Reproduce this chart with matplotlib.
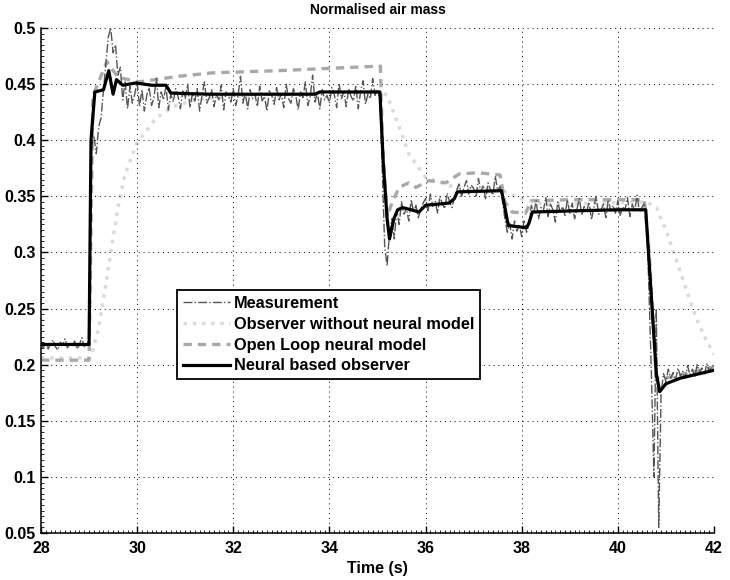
import numpy as np
import matplotlib
matplotlib.use("Agg")
import matplotlib.pyplot as plt
from matplotlib.ticker import MultipleLocator

plt.rcParams['font.family'] = ['Liberation Sans', 'DejaVu Sans']
plt.rcParams['font.weight'] = 'bold'

# == measurement, sampled every 0.05 s from 28 to 42 s (one row per second) == #
meas_t = np.arange(281) * 0.05 + 28.0
meas_v = [
    0.218, 0.215, 0.220, 0.214, 0.219, 0.222, 0.216, 0.213, 0.220, 0.218, 0.223, 0.215, 0.219, 0.217, 0.221, 0.214, 0.218, 0.224, 0.216, 0.219,
    0.221, 0.395, 0.404, 0.388, 0.412, 0.420, 0.445, 0.468, 0.492, 0.500, 0.478, 0.485, 0.458, 0.465, 0.436, 0.452, 0.428, 0.448, 0.433, 0.441,
    0.452, 0.430, 0.445, 0.426, 0.440, 0.447, 0.431, 0.438, 0.455, 0.429, 0.443, 0.436, 0.448, 0.427, 0.441, 0.434, 0.446, 0.439, 0.428, 0.444,
    0.437, 0.450, 0.429, 0.442, 0.435, 0.446, 0.426, 0.440, 0.452, 0.433, 0.438, 0.445, 0.430, 0.441, 0.436, 0.449, 0.427, 0.443, 0.439, 0.434,
    0.446, 0.431, 0.440, 0.457, 0.433, 0.442, 0.428, 0.445, 0.437, 0.441, 0.430, 0.448, 0.435, 0.439, 0.426, 0.444, 0.440, 0.432, 0.447, 0.436,
    0.441, 0.429, 0.450, 0.437, 0.433, 0.446, 0.440, 0.427, 0.443, 0.438, 0.452, 0.431, 0.439, 0.458, 0.434, 0.442, 0.428, 0.445, 0.436, 0.440,
    0.433, 0.447, 0.441, 0.429, 0.451, 0.437, 0.443, 0.430, 0.446, 0.439, 0.435, 0.449, 0.428, 0.444, 0.453, 0.432, 0.441, 0.437, 0.455, 0.440,
    0.445, 0.438, 0.372, 0.305, 0.288, 0.318, 0.330, 0.312, 0.338, 0.325, 0.345, 0.333, 0.340, 0.328, 0.347, 0.336, 0.342, 0.331, 0.339, 0.344,
    0.348, 0.337, 0.352, 0.341, 0.346, 0.335, 0.350, 0.343, 0.339, 0.353, 0.345, 0.340, 0.349, 0.356, 0.361, 0.350, 0.358, 0.364, 0.352, 0.360,
    0.357, 0.349, 0.366, 0.354, 0.360, 0.347, 0.362, 0.356, 0.351, 0.368, 0.355, 0.359, 0.346, 0.330, 0.318, 0.326, 0.312, 0.328, 0.319, 0.325,
    0.314, 0.329, 0.318, 0.324, 0.342, 0.335, 0.346, 0.330, 0.340, 0.337, 0.349, 0.332, 0.343, 0.338, 0.327, 0.345, 0.336, 0.341, 0.333, 0.347,
    0.335, 0.344, 0.330, 0.339, 0.348, 0.333, 0.341, 0.336, 0.345, 0.329, 0.340, 0.350, 0.334, 0.338, 0.343, 0.331, 0.347, 0.337, 0.342, 0.335,
    0.346, 0.333, 0.341, 0.338, 0.349, 0.332, 0.343, 0.337, 0.351, 0.336, 0.340, 0.344, 0.330, 0.262, 0.188, 0.100, 0.250, 0.055, 0.175, 0.192,
    0.185, 0.196, 0.188, 0.193, 0.186, 0.197, 0.190, 0.194, 0.188, 0.199, 0.191, 0.196, 0.189, 0.200, 0.193, 0.197, 0.191, 0.201, 0.194, 0.198,
    0.199,
]

# == observer without neural model (slow, light dotted) == #
obs_t = [28.0, 29.0, 29.06, 29.2, 29.35, 29.48, 29.6, 29.75, 30.0, 30.4, 30.75, 31.2, 31.9, 32.8, 35.08,
         35.2, 35.45, 35.65, 36.0, 36.6, 37.6, 38.1, 38.5, 40.6, 40.8, 41.0, 41.2, 41.4, 41.6, 41.8, 42.0]
obs_v = [0.206, 0.206, 0.210, 0.233, 0.272, 0.308, 0.340, 0.370, 0.398, 0.420, 0.430, 0.436, 0.439, 0.441, 0.443,
         0.440, 0.412, 0.388, 0.367, 0.358, 0.355, 0.346, 0.343, 0.345, 0.340, 0.320, 0.295, 0.270, 0.245, 0.225, 0.209]

# == open loop neural model (gray dashed) == #
ol_t = [28.0, 29.0, 29.08, 29.2, 29.37, 29.6, 30.04, 30.87, 31.56, 32.95, 34.5, 35.06, 35.1, 35.2, 35.3,
        35.45, 35.65, 35.8, 36.07, 36.42, 36.7, 37.1, 37.55, 37.65, 37.8, 38.08, 38.2, 39.0, 40.55,
        40.65, 40.8, 41.0, 41.5, 42.0]
ol_v = [0.204, 0.204, 0.440, 0.452, 0.470, 0.456, 0.452, 0.457, 0.460, 0.462, 0.465, 0.466, 0.400, 0.332, 0.344,
        0.358, 0.362, 0.358, 0.364, 0.362, 0.370, 0.371, 0.369, 0.345, 0.336, 0.335, 0.346, 0.347, 0.347,
        0.300, 0.188, 0.188, 0.193, 0.198]

# == neural based observer (black) == #
nn_t = [28.0, 29.0, 29.04, 29.12, 29.3, 29.41, 29.5, 29.57, 29.7, 29.97, 30.3, 30.6, 30.7, 31.5, 32.5, 33.7,
        33.8, 34.5, 35.05, 35.12, 35.2, 35.25, 35.34, 35.42, 35.52, 35.7, 35.86, 36.0, 36.49, 36.6, 36.66,
        37.58, 37.65, 37.72, 38.1, 38.15, 38.22, 39.0, 40.0, 40.58, 40.8, 40.87, 41.0, 41.3, 41.7, 42.0]
nn_v = [0.218, 0.218, 0.400, 0.443, 0.445, 0.462, 0.441, 0.454, 0.449, 0.451, 0.449, 0.449, 0.442, 0.441, 0.441, 0.441,
        0.443, 0.443, 0.443, 0.380, 0.330, 0.312, 0.330, 0.338, 0.340, 0.338, 0.336, 0.342, 0.344, 0.348, 0.354,
        0.355, 0.340, 0.324, 0.322, 0.326, 0.336, 0.337, 0.338, 0.338, 0.192, 0.176, 0.183, 0.188, 0.192, 0.195]

fig = plt.figure(figsize=(7.3, 5.8), dpi=100)
ax = fig.add_axes([41 / 730, 47 / 580, 673 / 730, 505 / 580])

ax.plot(meas_t, meas_v, color="#555555", lw=1.0, ls="-.", label="Measurement", zorder=3)
ax.plot(obs_t, obs_v, color="#dadada", lw=2.5, ls=":", label="Observer without neural model", zorder=1)
ax.plot(ol_t, ol_v, color="#a9a9a9", lw=2.4, ls=(0, (2.5, 1.8)), label="Open Loop neural model", zorder=2)
ax.plot(nn_t, nn_v, color="black", lw=2.3, label="Neural based observer", zorder=4)

ax.set_xlim(28, 42)
ax.set_ylim(0.05, 0.5)
ax.set_xticks(np.arange(28, 42.1, 2))
ax.set_yticks([0.05, 0.1, 0.15, 0.2, 0.25, 0.3, 0.35, 0.4, 0.45, 0.5])
ax.set_yticklabels(["0.05", "0.1", "0.15", "0.2", "0.25", "0.3", "0.35", "0.4", "0.45", "0.5"])
ax.xaxis.set_minor_locator(MultipleLocator(0.1))
ax.yaxis.set_minor_locator(MultipleLocator(0.005))
ax.tick_params(which="major", direction="in", length=5, width=1, labelsize=11.5)
ax.tick_params(axis="x", which="major", pad=6)
ax.tick_params(axis="y", which="major", pad=4)
ax.tick_params(which="minor", direction="in", length=2, width=0.6)
for lab in ax.get_xticklabels() + ax.get_yticklabels():
    lab.set_fontweight("bold")

ax.grid(True, which="major", color="black", ls=(0, (1, 4)), lw=0.7)
ax.spines["top"].set_visible(False)
ax.spines["right"].set_visible(False)
ax.spines["left"].set_linewidth(1.1)
ax.spines["bottom"].set_linewidth(1.1)

ax.set_title("Normalised air mass", fontsize=10, fontweight="bold", pad=10)
ax.set_xlabel("Time (s)", fontsize=11.5, fontweight="bold", labelpad=3)

leg = ax.legend(loc="upper left", bbox_to_anchor=(136 / 673, (533 - 290) / 505),
                prop={"weight": "bold", "size": 11.8}, frameon=True, fancybox=False,
                handlelength=2.9, handletextpad=0.2, labelspacing=0.36, borderpad=0.35,
                borderaxespad=0)
leg.get_frame().set_edgecolor("black")
leg.get_frame().set_linewidth(1.3)
leg.get_frame().set_alpha(1)

fig.savefig("out.png", dpi=100)
